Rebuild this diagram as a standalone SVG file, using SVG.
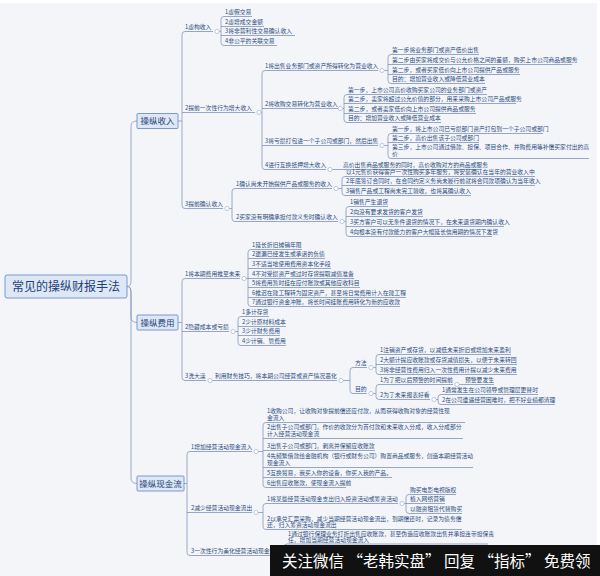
<svg xmlns="http://www.w3.org/2000/svg" width="600" height="576" viewBox="0 0 600 576">
<style>
.t{font-family:"Noto Sans CJK SC","Noto Sans",sans-serif;font-size:5.8px;fill:#2d4c80}
.b{font-family:"Noto Sans CJK SC","Noto Sans",sans-serif;font-size:8.5px;fill:#1f3f78;text-anchor:middle}
.r{font-family:"Noto Sans CJK SC","Noto Sans",sans-serif;font-size:12px;fill:#1f3f78;text-anchor:middle}
.u{stroke:#7d92b9;stroke-width:.8;fill:none}
.c{stroke:#8398bd;stroke-width:.8;fill:none}
.m{fill:#fff;stroke:#9aaac8;stroke-width:.6}
.box{fill:#dde7f5;stroke:#6f8fc4;stroke-width:.9}
</style>
<rect width="600" height="576" fill="#ffffff"/>
<rect x="0" y="3" width="597" height="573" fill="#f3f5f9"/>

<g id="connectors">
<path class="c" d="M127,286.5 C131,286.5 131,283 131,278 L131,126 Q131,121 137,121"/>
<path class="c" d="M127,286.5 C131,286.5 131,290 131,295 L131,317 Q131,322.5 137,322.5"/>
<path class="c" d="M127,286.5 C131,286.5 131,290 131,295 L131,478 Q131,483.5 137,483.5"/>
<path class="c" d="M178,121H182 M185,31.5 Q182,31.5 182,34.5 L182,205.5 Q182,208.5 185,208.5"/>
<path class="c" d="M219.2,31.5H221 M224,16.5 Q221,16.5 221,19.5 L221,42.5 Q221,45.5 224,45.5"/>
<path class="c" d="M261.2,112.5H262 M265,70.5 Q262,70.5 262,73.5 L262,166.5 Q262,169.5 265,169.5"/>
<path class="c" d="M384.2,70.5H388 M391,54.5 Q388,54.5 388,57.5 L388,80.5 Q388,83.5 391,83.5"/>
<path class="c" d="M342.5,108.5H344 M347,94.5 Q344,94.5 344,97.5 L344,119.5 Q344,122.5 347,122.5"/>
<path class="c" d="M384.2,145.5H388 M391,133.5 Q388,133.5 388,136.5 L388,155.5 Q388,158.5 391,158.5"/>
<path class="c" d="M332.2,169.5H343"/>
<path class="c" d="M229.2,208.5H232 M235,188.5 Q232,188.5 232,191.5 L232,218.5 Q232,221.5 235,221.5"/>
<path class="c" d="M338.2,188.5H342 M345,176.5 Q342,176.5 342,179.5 L342,192.5 Q342,195.5 345,195.5"/>
<path class="c" d="M344.2,221.5H346 M349,206.5 Q346,206.5 346,209.5 L346,233.5 Q346,236.5 349,236.5"/>
<path class="c" d="M178,322.5H182 M185,278.5 Q182,278.5 182,281.5 L182,377.5 Q182,380.5 185,380.5"/>
<path class="c" d="M246.2,278.5H248 M251,249.5 Q248,249.5 248,252.5 L248,303.5 Q248,306.5 251,306.5"/>
<path class="c" d="M235.2,331.5H238 M241,316.5 Q238,316.5 238,319.5 L238,342.5 Q238,345.5 241,345.5"/>
<path class="c" d="M212.2,380.5H215"/>
<path class="c" d="M343.2,380.5H350 M353,367.5 Q350,367.5 350,370.5 L350,390.5 Q350,393.5 353,393.5"/>
<path class="c" d="M373.2,367.5H376 M379,354.5 Q376,354.5 376,357.5 L376,371.5 Q376,374.5 379,374.5"/>
<path class="c" d="M373.2,393.5H376 M379,384.5 Q376,384.5 376,387.5 L376,396.5 Q376,399.5 379,399.5"/>
<path class="c" d="M459.2,384.5H464"/>
<path class="c" d="M436.2,399.5H438 M441,394.5 Q438,394.5 438,397.5 L438,401.5 Q438,404.5 441,404.5"/>
<path class="c" d="M184,483.5H187 M190,451.5 Q187,451.5 187,454.5 L187,552.5 Q187,555.5 190,555.5"/>
<path class="c" d="M258.2,451.5H263 M266,422.5 Q263,422.5 263,425.5 L263,484.5 Q263,487.5 266,487.5"/>
<path class="c" d="M258.2,512.5H263 M266,503.5 Q263,503.5 263,506.5 L263,526.5 Q263,529.5 266,529.5"/>
<path class="c" d="M404.2,503.5H406 M409,494.5 Q406,494.5 406,497.5 L406,510.5 Q406,513.5 409,513.5"/>
<path class="c" d="M281.2,555.5 Q284,555.5 284,551 L284,547 Q284,544 287,544"/>
<g class="m">
<circle cx="217" cy="31.5" r="2.1"/><circle cx="259" cy="112.5" r="2.1"/><circle cx="382" cy="70.5" r="2.1"/>
<circle cx="340.3" cy="108.5" r="2.1"/><circle cx="382" cy="145.5" r="2.1"/><circle cx="330" cy="169.5" r="2.1"/>
<circle cx="227" cy="208.5" r="2.1"/><circle cx="336" cy="188.5" r="2.1"/><circle cx="342" cy="221.5" r="2.1"/>
<circle cx="244" cy="278.5" r="2.1"/><circle cx="233" cy="331.5" r="2.1"/><circle cx="210" cy="380.5" r="2.1"/>
<circle cx="341" cy="380.5" r="2.1"/><circle cx="371" cy="367.5" r="2.1"/><circle cx="371" cy="393.5" r="2.1"/>
<circle cx="457" cy="384.5" r="2.1"/><circle cx="434" cy="399.5" r="2.1"/>
<circle cx="256" cy="451.5" r="2.1"/><circle cx="256" cy="512.5" r="2.1"/><circle cx="402" cy="503.5" r="2.1"/>
<circle cx="279" cy="555.5" r="2.1"/>
</g>
</g>

<g id="root"><rect class="box" x="5" y="275" width="122" height="23" rx="2"/><text class="r" x="66" y="291">常见的操纵财报手法</text></g>
<g id="b1"><rect class="box" x="137" y="113.5" width="41" height="15" rx="1"/><text class="b" x="157.5" y="124">操纵收入</text></g>
<g id="b2"><rect class="box" x="137" y="315" width="41" height="15" rx="1"/><text class="b" x="157.5" y="325.5">操纵费用</text></g>
<g id="b3"><rect class="box" x="137" y="476" width="47" height="15" rx="1"/><text class="b" x="160.5" y="486.5">操纵现金流</text></g>

<g id="n1"><text class="t" x="185" y="29">1虚构收入</text><path class="u" d="M185,31.5H213"/></g>
<g id="n1a"><text class="t" x="225" y="14">1虚假交易</text><path class="u" d="M224,16.5H252"/></g>
<g id="n1b"><text class="t" x="225" y="24">2虚增成交金额</text><path class="u" d="M221,26.5H264"/></g>
<g id="n1c"><text class="t" x="225" y="33">3将非营利性交易确认收入</text><path class="u" d="M221,35.5H295"/></g>
<g id="n1d"><text class="t" x="225" y="43">4非公平的关联交易</text><path class="u" d="M224,45.5H277"/></g>

<g id="n2"><text class="t" x="185" y="110">2提前一次性行为增大收入</text><path class="u" d="M182,112.5H255"/></g>
<g id="n2a"><text class="t" x="265" y="68">1将出售业务部门或资产所得转化为营业收入</text><path class="u" d="M265,70.5H378"/></g>
<g id="n2a1"><text class="t" x="392" y="52">第一步将业务部门或资产低价出售</text><path class="u" d="M391,54.5H479"/></g>
<g id="n2a2"><text class="t" x="392" y="62">第二步由买家将成交价与公允价格之间的差额，购买上市公司商品或服务</text><path class="u" d="M388,64.5H572"/></g>
<g id="n2a3"><text class="t" x="392" y="72">第二步，或者买家低价向上市公司提供产品或服务</text><path class="u" d="M388,74.5H520"/></g>
<g id="n2a4"><text class="t" x="392" y="81">目的：增加营业收入或降低营业成本</text><path class="u" d="M391,83.5H485"/></g>
<g id="n2b"><text class="t" x="265" y="106">2将收购交易转化为营业收入</text><path class="u" d="M262,108.5H338"/></g>
<g id="n2b1"><text class="t" x="348" y="92">第一步，上市公司高价收购买家公司的业务部门或资产</text><path class="u" d="M347,94.5H487"/></g>
<g id="n2b2"><text class="t" x="348" y="101">第二步，卖家将超过公允价值的部分，用来采购上市公司产品或服务</text><path class="u" d="M344,103.5H516"/></g>
<g id="n2b3"><text class="t" x="348" y="111">第二步，或者卖家低价向上市公司提供商品或服务</text><path class="u" d="M344,113.5H476"/></g>
<g id="n2b4"><text class="t" x="348" y="120">目的：增加营业收入或降低营业成本</text><path class="u" d="M347,122.5H441"/></g>
<g id="n2c"><text class="t" x="265" y="143">3将亏损打包进一个子公司或部门，然后出售</text><path class="u" d="M262,145.5H378"/></g>
<g id="n2c1"><text class="t" x="392" y="131">第一步，将上市公司已亏损部门资产打包到一个子公司或部门</text><path class="u" d="M391,133.5H543"/></g>
<g id="n2c2"><text class="t" x="392" y="140">第二步，高价出售该子公司或部门</text><path class="u" d="M388,142.5H479"/></g>
<g id="n2c3"><text class="t" x="392" y="149">第三步，上市公司通过借款、担保、项目合作、并购费用等补偿买家付出的高<tspan x="392" dy="7">价</tspan></text><path class="u" d="M391,158.5H589"/></g>
<g id="n2d"><text class="t" x="265" y="167">4进行互换抵押增大收入</text><path class="u" d="M265,169.5H326"/></g>
<g id="n2d1"><text class="t" x="343" y="167">高价出售商品或服务的同时，高价收购对方的商品或服务</text><path class="u" d="M343,169.5H482"/></g>

<g id="n3"><text class="t" x="185" y="206">3提前确认收入</text><path class="u" d="M185,208.5H223"/></g>
<g id="n3a"><text class="t" x="236" y="186">1确认尚未开始提供产品或服务的收入</text><path class="u" d="M235,188.5H332"/></g>
<g id="n3a1"><text class="t" x="346" y="174">以1元售价获得客户一次性购买多年服务，将安装确认在当年的营业收入中</text><path class="u" d="M345,176.5H535"/></g>
<g id="n3a2"><text class="t" x="346" y="183">2年底签订合同时，在合同约定义务尚未履行前就将合同款项确认为当年收入</text><path class="u" d="M342,185.5H535"/></g>
<g id="n3a3"><text class="t" x="346" y="193">3销售产品或工程尚未完工验收，也将其确认收入</text><path class="u" d="M345,195.5H471"/></g>
<g id="n3b"><text class="t" x="236" y="219">2买家没有明确承担付款义务时确认收入</text><path class="u" d="M235,221.5H338"/></g>
<g id="n3b1"><text class="t" x="350" y="204">1销售产生退货</text><path class="u" d="M349,206.5H388"/></g>
<g id="n3b2"><text class="t" x="350" y="214">2向没有要求发货的客户发货</text><path class="u" d="M346,216.5H423"/></g>
<g id="n3b3"><text class="t" x="350" y="224">3买方客户可以无条件退货的情况下，在未来退货期内确认收入</text><path class="u" d="M346,226.5H504"/></g>
<g id="n3b4"><text class="t" x="350" y="234">4向根本没有付款能力的客户大幅延长信用期的情况下发货</text><path class="u" d="M349,236.5H492"/></g>

<g id="m1"><text class="t" x="185" y="276">1将本期费用推至未来</text><path class="u" d="M185,278.5H240"/></g>
<g id="m1a"><text class="t" x="252" y="247">1延长折旧摊销年限</text><path class="u" d="M251,249.5H302"/></g>
<g id="m1b"><text class="t" x="252" y="256">2遗漏已经发生或承诺的负债</text><path class="u" d="M248,258.5H325"/></g>
<g id="m1c"><text class="t" x="252" y="266">3不适当地使用费用资本化手段</text><path class="u" d="M248,268.5H331"/></g>
<g id="m1d"><text class="t" x="252" y="276">4不对受损资产或过时存货提取减值准备</text><path class="u" d="M248,278.5H354"/></g>
<g id="m1e"><text class="t" x="252" y="285">5将费用暂时挂在应付账款或其他应收科目</text><path class="u" d="M248,287.5H360"/></g>
<g id="m1f"><text class="t" x="252" y="295">6推迟在建工程转为固定资产，甚至将日常费用计入在建工程</text><path class="u" d="M248,297.5H406"/></g>
<g id="m1g"><text class="t" x="252" y="304">7通过银行资金冲账，将长时间挂账费用转化为新的应收款</text><path class="u" d="M251,306.5H400"/></g>
<g id="m2"><text class="t" x="185" y="329">2隐藏成本或亏损</text><path class="u" d="M182,331.5H229"/></g>
<g id="m2a"><text class="t" x="242" y="314">1多计存货</text><path class="u" d="M241,316.5H269"/></g>
<g id="m2b"><text class="t" x="242" y="324">2少计原材料成本</text><path class="u" d="M238,326.5H286"/></g>
<g id="m2c"><text class="t" x="242" y="333">3少计财务费用</text><path class="u" d="M238,335.5H280"/></g>
<g id="m2d"><text class="t" x="242" y="343">4少计销、管费用</text><path class="u" d="M241,345.5H286"/></g>
<g id="m3"><text class="t" x="185" y="378">3洗大澡</text><path class="u" d="M185,380.5H206"/></g>
<g id="m3a"><text class="t" x="215" y="378">利用财务技巧，将本期公司经营或资产情况恶化</text><path class="u" d="M215,380.5H337"/></g>
<g id="m3b"><text class="t" x="355" y="365">方法</text><path class="u" d="M353,367.5H367"/></g>
<g id="m3b1"><text class="t" x="380" y="352">1注销资产或存货，以减低未来折旧或增加未来盈利</text><path class="u" d="M379,354.5H511"/></g>
<g id="m3b2"><text class="t" x="380" y="362">2大额计提应收账款或存货减值损失，以便于未来转回</text><path class="u" d="M376,364.5H517"/></g>
<g id="m3b3"><text class="t" x="380" y="372">3将非经营性费用归入一次性费用计提以减少未来费用</text><path class="u" d="M379,374.5H517"/></g>
<g id="m3c"><text class="t" x="355" y="391">目的</text><path class="u" d="M353,393.5H367"/></g>
<g id="m3c1"><text class="t" x="380" y="382">1为了把以后预警的时间提前</text><path class="u" d="M379,384.5H453"/></g>
<g id="m3c1a"><text class="t" x="465" y="382">预警要发生</text><path class="u" d="M464,384.5H494"/></g>
<g id="m3c2"><text class="t" x="380" y="397">2为了未来报表好看</text><path class="u" d="M379,399.5H430"/></g>
<g id="m3c2a"><text class="t" x="442" y="392">1通常发生在公司领导或管理层更替时</text><path class="u" d="M441,394.5H538"/></g>
<g id="m3c2b"><text class="t" x="442" y="402">2在公司遭遇经营困难时，把不好业绩都清理</text><path class="u" d="M441,404.5H555"/></g>

<g id="c1"><text class="t" x="191" y="449">1增加经营活动现金流入</text><path class="u" d="M190,451.5H252"/></g>
<g id="c1a"><text class="t" x="267" y="413">1收购公司，让收购对象提前偿还应付款，从而获得收购对象的经营性现<tspan x="267" dy="7">金流入</tspan></text><path class="u" d="M266,422.5H465"/></g>
<g id="c1b"><text class="t" x="267" y="429">2出售子公司或部门，作价的收款分为首付款和未来收入分成，收入分成部分<tspan x="267" dy="7">计入经营活动现金流</tspan></text><path class="u" d="M263,438.5H463"/></g>
<g id="c1c"><text class="t" x="267" y="448">3出售子公司或部门，剥离并保留应收账款</text><path class="u" d="M263,450.5H375"/></g>
<g id="c1d"><text class="t" x="267" y="458">4先频繁借款给金融机构（银行或财务公司）购置商品或服务，创造本期经营活动<tspan x="267" dy="7">现金流入</tspan></text><path class="u" d="M263,467.5H473"/></g>
<g id="c1e"><text class="t" x="267" y="475">5互换贸易，我买入你的设备，你买入我的产品。</text><path class="u" d="M263,477.5H392"/></g>
<g id="c1f"><text class="t" x="267" y="485">6出售应收账款，使现金流入提前</text><path class="u" d="M266,487.5H346"/></g>
<g id="c2"><text class="t" x="191" y="510">2减少经营活动现金流出</text><path class="u" d="M187,512.5H252"/></g>
<g id="c2a"><text class="t" x="267" y="501">1将某些经营活动现金支出归入投资活动或筹资活动</text><path class="u" d="M266,503.5H398"/></g>
<g id="c2a1"><text class="t" x="410" y="492">购买电影电视版权</text><path class="u" d="M409,494.5H456"/></g>
<g id="c2a2"><text class="t" x="410" y="501">植入网络营销</text><path class="u" d="M406,503.5H445"/></g>
<g id="c2a3"><text class="t" x="410" y="511">以融资租赁代替购买</text><path class="u" d="M409,513.5H462"/></g>
<g id="c2b"><text class="t" x="267" y="520.5">2以承兑汇票采购，减少当期经营活动现金流出，到期偿还时，记录为债务偿<tspan x="267" dy="6.5">还，归入筹资活动现金流出</tspan></text><path class="u" d="M266,529.5H462"/></g>
<g id="c3"><text class="t" x="191" y="553">3一次性行为美化经营活动现金流</text><path class="u" d="M190,555.5H275"/></g>
<g id="c3a"><text class="t" x="288" y="535.5">1通过银行保理业务打折出售应收账款，甚至伪造应收账款出售并承担连带担保责<tspan x="288" dy="6.5">任，增加当期经营活动现金流入</tspan></text><path class="u" d="M287,544H488"/></g>

<g id="banner">
<rect x="270" y="545" width="330" height="31" fill="#111111"/>
<text x="282" y="567" font-family="Noto Sans CJK SC, sans-serif" font-size="15.5" fill="#ffffff">关注微信 “老韩实盘” 回复 “指标” 免费领</text>
</g>
</svg>
